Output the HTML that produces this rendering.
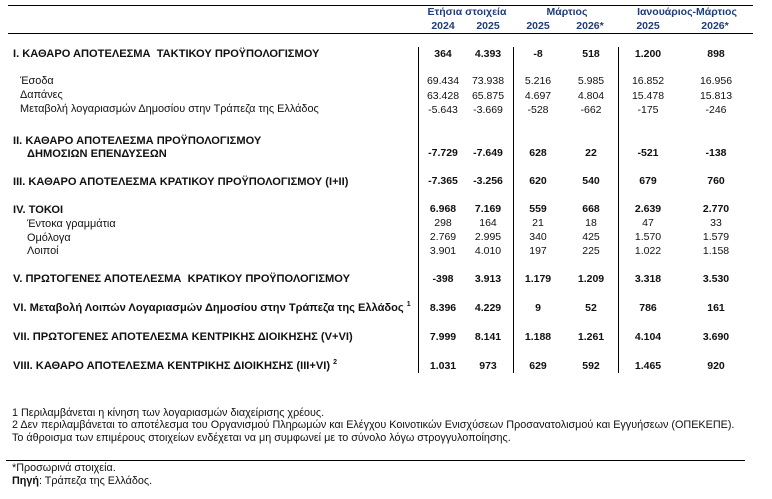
<!DOCTYPE html>
<html>
<head>
<meta charset="utf-8">
<style>
  html,body{margin:0;padding:0;background:#fff;}
  body{width:772px;height:499px;position:relative;overflow:hidden;font-family:"Liberation Sans",Arial,sans-serif;color:#111;}
  .t{position:absolute;white-space:nowrap;font-size:10.9px;line-height:14px;}
  .t.b{font-size:11.1px;}
  .f{font-size:10.8px;}
  .b{font-weight:bold;}
  .h{color:#1f3d7a;font-weight:bold;font-size:11.3px;}
  .c{position:absolute;width:70px;text-align:center;white-space:nowrap;font-size:10.5px;line-height:14px;}
  .hl{position:absolute;height:1px;background:#000;}
  .vl{position:absolute;width:1px;background:#000;}
  sup{font-size:7px;vertical-align:top;position:relative;top:-3px;}
</style>
</head>
<body>
<!-- horizontal lines -->
<div class="hl" style="left:8px;top:5px;width:745px;"></div>
<div class="hl" style="left:8px;top:33px;width:745px;"></div>
<div class="hl" style="left:6px;top:460px;width:739px;"></div>
<!-- vertical lines -->
<div class="vl" style="left:418px;top:47px;height:326px;"></div>
<div class="vl" style="left:513px;top:47px;height:326px;"></div>
<div class="vl" style="left:618px;top:47px;height:326px;"></div>

<!-- header -->
<div class="c h" style="left:417px;width:100px;top:5px;">Ετήσια στοιχεία</div>
<div class="c h" style="left:517px;width:100px;top:5px;">Μάρτιος</div>
<div class="c h" style="left:622px;width:130px;top:5px;">Ιανουάριος-Μάρτιος</div>
<div class="c h" style="left:408px;top:19px;">2024</div>
<div class="c h" style="left:453px;top:19px;">2025</div>
<div class="c h" style="left:503px;top:19px;">2025</div>
<div class="c h" style="left:555px;top:19px;">2026*</div>
<div class="c h" style="left:613px;top:19px;">2025</div>
<div class="c h" style="left:680px;top:19px;">2026*</div>

<!-- labels -->
<div class="t b" style="left:13px;top:47px;">I. ΚΑΘΑΡΟ ΑΠΟΤΕΛΕΣΜΑ&nbsp; ΤΑΚΤΙΚΟΥ ΠΡΟΫΠΟΛΟΓΙΣΜΟΥ</div>
<div class="t" style="left:20px;top:74px;">Έσοδα</div>
<div class="t" style="left:20px;top:88px;">Δαπάνες</div>
<div class="t" style="left:20px;top:102px;">Μεταβολή λογαριασμών Δημοσίου στην Τράπεζα της Ελλάδος</div>
<div class="t b" style="left:13px;top:134px;">II. ΚΑΘΑΡΟ ΑΠΟΤΕΛΕΣΜΑ ΠΡΟΫΠΟΛΟΓΙΣΜΟΥ</div>
<div class="t b" style="left:27px;top:147px;">ΔΗΜΟΣΙΩΝ ΕΠΕΝΔΥΣΕΩΝ</div>
<div class="t b" style="left:13px;top:175px;">III. ΚΑΘΑΡΟ ΑΠΟΤΕΛΕΣΜΑ ΚΡΑΤΙΚΟΥ ΠΡΟΫΠΟΛΟΓΙΣΜΟΥ (I+II)</div>
<div class="t b" style="left:13px;top:203px;">IV. ΤΟΚΟΙ</div>
<div class="t" style="left:27px;top:217px;">Έντοκα γραμμάτια</div>
<div class="t" style="left:27px;top:231px;">Ομόλογα</div>
<div class="t" style="left:27px;top:244px;">Λοιποί</div>
<div class="t b" style="left:13px;top:272px;">V. ΠΡΩΤΟΓΕΝΕΣ ΑΠΟΤΕΛΕΣΜΑ&nbsp; ΚΡΑΤΙΚΟΥ ΠΡΟΫΠΟΛΟΓΙΣΜΟΥ</div>
<div class="t b" style="left:13px;top:301px;">VI. Μεταβολή Λοιπών Λογαριασμών Δημοσίου στην Τράπεζα της Ελλάδος <sup>1</sup></div>
<div class="t b" style="left:13px;top:330px;">VII. ΠΡΩΤΟΓΕΝΕΣ ΑΠΟΤΕΛΕΣΜΑ ΚΕΝΤΡΙΚΗΣ ΔΙΟΙΚΗΣΗΣ (V+VI)</div>
<div class="t b" style="left:13px;top:359px;">VIII. ΚΑΘΑΡΟ ΑΠΟΤΕΛΕΣΜΑ ΚΕΝΤΡΙΚΗΣ ΔΙΟΙΚΗΣΗΣ (III+VI) <sup>2</sup></div>

<!-- I -->
<div class="c b" style="left:408px;top:47px;">364</div>
<div class="c b" style="left:453px;top:47px;">4.393</div>
<div class="c b" style="left:503px;top:47px;">-8</div>
<div class="c b" style="left:556px;top:47px;">518</div>
<div class="c b" style="left:613px;top:47px;">1.200</div>
<div class="c b" style="left:681px;top:47px;">898</div>
<!-- Esoda -->
<div class="c" style="left:408px;top:74px;">69.434</div>
<div class="c" style="left:453px;top:74px;">73.938</div>
<div class="c" style="left:503px;top:74px;">5.216</div>
<div class="c" style="left:556px;top:74px;">5.985</div>
<div class="c" style="left:613px;top:74px;">16.852</div>
<div class="c" style="left:681px;top:74px;">16.956</div>
<!-- Dapanes -->
<div class="c" style="left:408px;top:89px;">63.428</div>
<div class="c" style="left:453px;top:89px;">65.875</div>
<div class="c" style="left:503px;top:89px;">4.697</div>
<div class="c" style="left:556px;top:89px;">4.804</div>
<div class="c" style="left:613px;top:89px;">15.478</div>
<div class="c" style="left:681px;top:89px;">15.813</div>
<!-- Metavoli -->
<div class="c" style="left:408px;top:103px;">-5.643</div>
<div class="c" style="left:453px;top:103px;">-3.669</div>
<div class="c" style="left:503px;top:103px;">-528</div>
<div class="c" style="left:556px;top:103px;">-662</div>
<div class="c" style="left:613px;top:103px;">-175</div>
<div class="c" style="left:681px;top:103px;">-246</div>
<!-- II -->
<div class="c b" style="left:408px;top:146px;">-7.729</div>
<div class="c b" style="left:453px;top:146px;">-7.649</div>
<div class="c b" style="left:503px;top:146px;">628</div>
<div class="c b" style="left:556px;top:146px;">22</div>
<div class="c b" style="left:613px;top:146px;">-521</div>
<div class="c b" style="left:681px;top:146px;">-138</div>
<!-- III -->
<div class="c b" style="left:408px;top:174px;">-7.365</div>
<div class="c b" style="left:453px;top:174px;">-3.256</div>
<div class="c b" style="left:503px;top:174px;">620</div>
<div class="c b" style="left:556px;top:174px;">540</div>
<div class="c b" style="left:613px;top:174px;">679</div>
<div class="c b" style="left:681px;top:174px;">760</div>
<!-- IV -->
<div class="c b" style="left:408px;top:202px;">6.968</div>
<div class="c b" style="left:453px;top:202px;">7.169</div>
<div class="c b" style="left:503px;top:202px;">559</div>
<div class="c b" style="left:556px;top:202px;">668</div>
<div class="c b" style="left:613px;top:202px;">2.639</div>
<div class="c b" style="left:681px;top:202px;">2.770</div>
<!-- Entoka -->
<div class="c" style="left:408px;top:216px;">298</div>
<div class="c" style="left:453px;top:216px;">164</div>
<div class="c" style="left:503px;top:216px;">21</div>
<div class="c" style="left:556px;top:216px;">18</div>
<div class="c" style="left:613px;top:216px;">47</div>
<div class="c" style="left:681px;top:216px;">33</div>
<!-- Omologa -->
<div class="c" style="left:408px;top:230px;">2.769</div>
<div class="c" style="left:453px;top:230px;">2.995</div>
<div class="c" style="left:503px;top:230px;">340</div>
<div class="c" style="left:556px;top:230px;">425</div>
<div class="c" style="left:613px;top:230px;">1.570</div>
<div class="c" style="left:681px;top:230px;">1.579</div>
<!-- Loipoi -->
<div class="c" style="left:408px;top:244px;">3.901</div>
<div class="c" style="left:453px;top:244px;">4.010</div>
<div class="c" style="left:503px;top:244px;">197</div>
<div class="c" style="left:556px;top:244px;">225</div>
<div class="c" style="left:613px;top:244px;">1.022</div>
<div class="c" style="left:681px;top:244px;">1.158</div>
<!-- V -->
<div class="c b" style="left:408px;top:272px;">-398</div>
<div class="c b" style="left:453px;top:272px;">3.913</div>
<div class="c b" style="left:503px;top:272px;">1.179</div>
<div class="c b" style="left:556px;top:272px;">1.209</div>
<div class="c b" style="left:613px;top:272px;">3.318</div>
<div class="c b" style="left:681px;top:272px;">3.530</div>
<!-- VI -->
<div class="c b" style="left:408px;top:301px;">8.396</div>
<div class="c b" style="left:453px;top:301px;">4.229</div>
<div class="c b" style="left:503px;top:301px;">9</div>
<div class="c b" style="left:556px;top:301px;">52</div>
<div class="c b" style="left:613px;top:301px;">786</div>
<div class="c b" style="left:681px;top:301px;">161</div>
<!-- VII -->
<div class="c b" style="left:408px;top:330px;">7.999</div>
<div class="c b" style="left:453px;top:330px;">8.141</div>
<div class="c b" style="left:503px;top:330px;">1.188</div>
<div class="c b" style="left:556px;top:330px;">1.261</div>
<div class="c b" style="left:613px;top:330px;">4.104</div>
<div class="c b" style="left:681px;top:330px;">3.690</div>
<!-- VIII -->
<div class="c b" style="left:408px;top:359px;">1.031</div>
<div class="c b" style="left:453px;top:359px;">973</div>
<div class="c b" style="left:503px;top:359px;">629</div>
<div class="c b" style="left:556px;top:359px;">592</div>
<div class="c b" style="left:613px;top:359px;">1.465</div>
<div class="c b" style="left:681px;top:359px;">920</div>

<!-- footnotes -->
<div class="t f" style="left:12px;top:406px;">1 Περιλαμβάνεται η κίνηση των λογαριασμών διαχείρισης χρέους.</div>
<div class="t f" style="left:12px;top:418px;">2 Δεν περιλαμβάνεται το αποτέλεσμα του Οργανισμού Πληρωμών και Ελέγχου Κοινοτικών Ενισχύσεων Προσανατολισμού και Εγγυήσεων (ΟΠΕΚΕΠΕ).</div>
<div class="t f" style="left:12px;top:431px;">Το άθροισμα των επιμέρους στοιχείων ενδέχεται να μη συμφωνεί με το σύνολο λόγω στρογγυλοποίησης.</div>
<div class="t f" style="left:12px;top:461px;">*Προσωρινά στοιχεία.</div>
<div class="t f" style="left:12px;top:474px;"><b>Πηγή</b>: Τράπεζα της Ελλάδος.</div>
</body>
</html>
